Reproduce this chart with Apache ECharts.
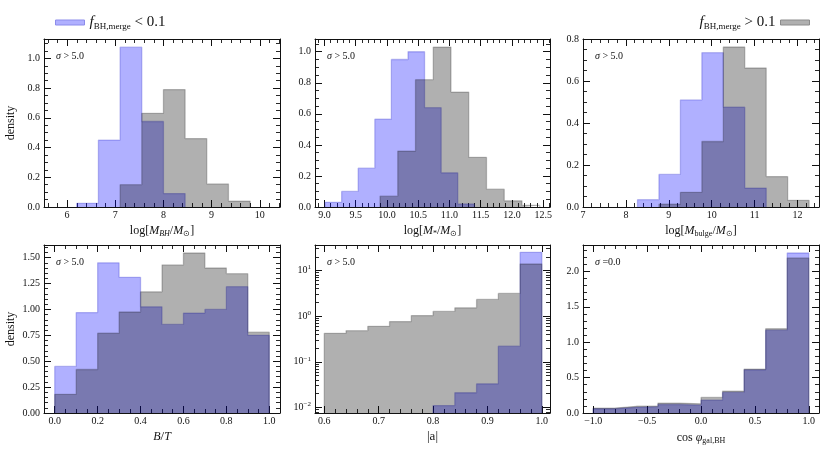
<!DOCTYPE html>
<html><head><meta charset="utf-8">
<script src="https://cdn.jsdelivr.net/npm/echarts@6/dist/echarts.min.js"></script>
<style>html,body{margin:0;padding:0;background:#fff}#c{width:830px;height:450px}</style>
</head><body><div id="c"></div>
<script>
// ---------------- data ----------------
const bhEdges = [6.2, 6.65, 7.1, 7.55, 8.0, 8.45, 8.9, 9.35, 9.8];
const bhLow   = [0.025, 0.45, 1.075, 0.575, 0.09, 0, 0, 0];
const bhHigh  = [0, 0, 0.15, 0.63, 0.79, 0.46, 0.155, 0.04];

const msLowEdges  = [9.01, 9.276, 9.541, 9.807, 10.072, 10.338, 10.603, 10.869, 11.134, 11.4];
const msLow       = [0.03, 0.10, 0.25, 0.565, 0.95, 1.0, 0.64, 0.22, 0.02];
const msHighEdges = [9.89, 10.174, 10.458, 10.742, 11.026, 11.31, 11.594, 11.878, 12.162, 12.446];
const msHigh      = [0.07, 0.36, 0.82, 1.03, 0.74, 0.32, 0.115, 0.04, 0.01];

const buEdges = [8.27, 8.77, 9.27, 9.77, 10.27, 10.77, 11.27, 11.77, 12.27];
const buLow   = [0.035, 0.155, 0.51, 0.735, 0.475, 0.09, 0, 0];
const buHigh  = [0, 0.013, 0.07, 0.312, 0.762, 0.662, 0.145, 0.032];

const btEdges = [0, 0.1, 0.2, 0.3, 0.4, 0.5, 0.6, 0.7, 0.8, 0.9, 1.0];
const btLow   = [0.45, 0.97, 1.45, 1.31, 1.025, 0.855, 0.965, 1.0, 1.22, 0.75];
const btHigh  = [0.18, 0.42, 0.77, 0.975, 1.17, 1.43, 1.545, 1.40, 1.345, 0.78];

const spEdges = [0.6, 0.64, 0.68, 0.72, 0.76, 0.8, 0.84, 0.88, 0.92, 0.96, 1.0];
const spLow   = [0, 0, 0, 0, 0, 0.011, 0.021, 0.033, 0.22, 25];
const spHigh  = [0.42, 0.48, 0.60, 0.76, 1.03, 1.27, 1.52, 2.32, 3.14, 13.9];

const cosEdges = [-1.0, -0.8, -0.6, -0.4, -0.2, 0.0, 0.2, 0.4, 0.6, 0.8, 1.0];
const cosLow   = [0.06, 0.08, 0.09, 0.12, 0.11, 0.18, 0.29, 0.61, 1.17, 2.26];
const cosHigh  = [0.07, 0.095, 0.10, 0.14, 0.13, 0.22, 0.31, 0.62, 1.19, 2.19];

const sigmaLabels = ['> 5.0', '> 5.0', '> 5.0', '> 5.0', '> 5.0', '=0.0'];

// ---------------- style ----------------
const FONT = 'Liberation Serif';
const BLUE_FILL = 'rgba(0,0,255,0.31)';
const BLUE_EDGE = 'rgba(40,40,200,0.28)';
const GRAY_FILL = 'rgba(0,0,0,0.31)';
const GRAY_EDGE = 'rgba(0,0,0,0.22)';
const TXT = '#111';

const grids = [
  {left:44, top:39, width:236, height:168},
  {left:315, top:39, width:235, height:168},
  {left:583, top:39, width:236, height:168},
  {left:44, top:245, width:236, height:168},
  {left:315, top:245, width:235, height:168},
  {left:583, top:245, width:236, height:168}
];

// panel axis settings: [xmin,xmax,xstep,xdec,xminor, ymin,ymax,ystep,ydec,yminor, xsplit]
const panels = [
  {x:[5.52,10.42], xs:1, xd:0, xm:5, xsplit:5, y:[0,1.13], ys:0.2, yd:1, ym:4},
  {x:[8.85,12.61], xs:0.5, xd:1, xm:5, xsplit:7, y:[0,1.082], ys:0.2, yd:1, ym:4},
  {x:[7,12.5], xs:1, xd:0, xm:5, xsplit:5, y:[0,0.8], ys:0.2, yd:1, ym:4},
  {x:[-0.05,1.05], xs:0.2, xd:1, xm:4, xsplit:5, y:[0,1.622], ys:0.25, yd:2, ym:5},
  {x:[0.583,1.015], xs:0.1, xd:1, xm:5, xsplit:5, y:[0.00756,36.2], log:true},
  {x:[-1.095,1.095], xs:0.5, xd:1, xm:5, xsplit:5, y:[0,2.373], ys:0.5, yd:1, ym:5}
];

const xNames = [
  'log[{i|M}{sb|BH}/{i|M}{s|⊙}]',
  'log[{i|M}{s|*}/{i|M}{s|⊙}]',
  'log[{i|M}{s|bulge}/{i|M}{s|⊙}]',
  '{i|B}/{i|T}',
  '|a|',
  'cos {i|φ}{s|gal,BH}'
];

const nameRich = {
  i:{fontFamily:FONT, fontStyle:'italic', fontSize:12, color:TXT},
  s:{fontFamily:FONT, fontSize:8, color:TXT, padding:[7,0,0,0]},
  sb:{fontFamily:FONT, fontStyle:'italic', fontSize:8, color:TXT, padding:[7,0,0,0]}
};

function fmtNum(v, step, dec) {
  const k = v / step;
  if (Math.abs(k - Math.round(k)) > 1e-6) return '';
  return v.toFixed(dec).replace('-', '\u2212');
}

const tickCommon = {inside:true, length:7, lineStyle:{color:'#111', width:1}};
const minorCommon = (n) => ({show:true, splitNumber:n, length:4, lineStyle:{color:'#111', width:0.9}});
const lineCommon = {show:true, onZero:false, lineStyle:{color:'#111', width:1}};

const xAxes = [], yAxes = [];
panels.forEach((p, gi) => {
  const xb = {
    type:'value', gridIndex:gi, min:p.x[0], max:p.x[1], splitNumber:p.xsplit,
    axisLine:lineCommon, axisTick:tickCommon, minorTick:minorCommon(p.xm), splitLine:{show:false},
    axisLabel:{margin:3, fontFamily:FONT, fontSize:10, color:TXT, showMinLabel:true, showMaxLabel:true,
      formatter:(v)=>fmtNum(v, p.xs, p.xd)},
    name:xNames[gi], nameLocation:'middle', nameGap: gi<3 ? 16 : 17,
    nameTextStyle:{fontFamily:FONT, fontSize: gi===3||gi===4 ? 13 : 12, color:TXT, rich:nameRich}
  };
  const xt = {
    type:'value', gridIndex:gi, position:'top', min:p.x[0], max:p.x[1], splitNumber:p.xsplit,
    axisLine:lineCommon, axisTick:tickCommon, minorTick:minorCommon(p.xm), splitLine:{show:false},
    axisLabel:{show:false}
  };
  xAxes.push(xb, xt);
  let yl, yr;
  if (p.log) {
    yl = {
      type:'log', gridIndex:gi, min:p.y[0], max:p.y[1], logBase:10,
      axisLine:lineCommon, axisTick:tickCommon, minorTick:minorCommon(9), splitLine:{show:false},
      axisLabel:{margin:4, fontFamily:FONT, fontSize:10, color:TXT, showMinLabel:true, showMaxLabel:true,
        formatter:(v)=>{ const e = Math.log10(v); if (Math.abs(e-Math.round(e))>1e-6) return '';
          const r = Math.round(e); return '{b|10}{sp|' + (r<0 ? '\u2212'+(-r) : r) + '}'; },
        rich:{b:{fontFamily:FONT, fontSize:10, color:TXT}, sp:{fontFamily:FONT, fontSize:7, color:TXT, padding:[0,0,6,0]}}}
    };
    yr = Object.assign({}, yl, {position:'right', axisLabel:{show:false}, name:''});
  } else {
    yl = {
      type:'value', gridIndex:gi, min:p.y[0], max:p.y[1], interval:p.ys,
      axisLine:lineCommon, axisTick:tickCommon, minorTick:minorCommon(p.ym), splitLine:{show:false},
      axisLabel:{margin:4, fontFamily:FONT, fontSize:10, color:TXT, showMinLabel:true, showMaxLabel:true,
        formatter:(v)=>fmtNum(v, p.ys, p.yd)}
    };
    yr = Object.assign({}, yl, {position:'right', axisLabel:{show:false}});
  }
  if (gi === 0 || gi === 3) {
    yl.name = 'density'; yl.nameLocation = 'middle'; yl.nameGap = 27;
    yl.nameTextStyle = {fontFamily:FONT, fontSize:12, color:TXT};
  }
  yAxes.push(yl, yr);
});

function stepPoints(edges, vals, floor) {
  let a = 0, b = vals.length - 1;
  while (a < b && !(vals[a] > 0)) a++;
  while (b > a && !(vals[b] > 0)) b--;
  const pts = [[edges[a], floor]];
  for (let i = a; i <= b; i++) pts.push([edges[i], vals[i] > 0 ? vals[i] : floor]);
  pts.push([edges[b + 1], floor]);
  return pts;
}

function hist(name, gi, edges, vals, fill, edge, z) {
  const floor = panels[gi].y[0];
  return {
    type:'line', name:name, xAxisIndex:gi*2, yAxisIndex:gi*2, step:'end', symbol:'none',
    showSymbol:false, silent:true, animation:false, z:z,
    data: stepPoints(edges, vals, floor),
    lineStyle:{color:edge, width:1.3},
    itemStyle:{color:fill},
    areaStyle:{color:fill, opacity:1, origin:'start'}
  };
}

const series = [
  hist('lt', 0, bhEdges, bhLow, BLUE_FILL, BLUE_EDGE, 2),
  hist('gt', 0, bhEdges, bhHigh, GRAY_FILL, GRAY_EDGE, 3),
  hist('lt', 1, msLowEdges, msLow, BLUE_FILL, BLUE_EDGE, 2),
  hist('gt', 1, msHighEdges, msHigh, GRAY_FILL, GRAY_EDGE, 3),
  hist('lt', 2, buEdges, buLow, BLUE_FILL, BLUE_EDGE, 2),
  hist('gt', 2, buEdges, buHigh, GRAY_FILL, GRAY_EDGE, 3),
  hist('lt', 3, btEdges, btLow, BLUE_FILL, BLUE_EDGE, 2),
  hist('gt', 3, btEdges, btHigh, GRAY_FILL, GRAY_EDGE, 3),
  hist('lt', 4, spEdges, spLow, BLUE_FILL, BLUE_EDGE, 2),
  hist('gt', 4, spEdges, spHigh, GRAY_FILL, GRAY_EDGE, 3),
  hist('lt', 5, cosEdges, cosLow, BLUE_FILL, BLUE_EDGE, 2),
  hist('gt', 5, cosEdges, cosHigh, GRAY_FILL, GRAY_EDGE, 3)
];

const graphics = grids.map((g, i) => ({
  type:'text', left:g.left + 12, top:g.top + 12, z:10,
  style:{text:'{i|σ} ' + sigmaLabels[i], fontFamily:FONT, fontSize:10, fill:TXT,
    rich:{i:{fontFamily:FONT, fontStyle:'italic', fontSize:10, color:TXT}}}
}));

const legRich = {
  f:{fontFamily:FONT, fontStyle:'italic', fontSize:15, color:TXT},
  s:{fontFamily:FONT, fontSize:9, color:TXT, padding:[8,0,0,0]},
  t:{fontFamily:FONT, fontSize:15, color:TXT}
};

const option = {
  backgroundColor:'#fff',
  animation:false,
  grid:grids,
  xAxis:xAxes,
  yAxis:yAxes,
  series:series,
  graphic:graphics,
  legend:[
    {left:50, top:10, icon:'rect', itemWidth:29, itemHeight:5, itemGap:6, selectedMode:false,
     data:['lt'], itemStyle:{color:'rgb(176,176,255)', borderColor:'rgb(140,140,235)', borderWidth:1},
     lineStyle:{width:0},
     formatter:()=>'{f|f}{s|BH,merge}{t| < 0.1}', textStyle:{rich:legRich}},
    {right:15, top:10, icon:'rect', itemWidth:29, itemHeight:5, itemGap:6, align:'right', selectedMode:false,
     data:['gt'], itemStyle:{color:'rgb(176,176,176)', borderColor:'rgb(140,140,140)', borderWidth:1},
     lineStyle:{width:0},
     formatter:()=>'{f|f}{s|BH,merge}{t| > 0.1}', textStyle:{rich:legRich}}
  ]
};

const chart = echarts.init(document.getElementById('c'), null, {renderer:'canvas'});
chart.setOption(option);
</script></body></html>
